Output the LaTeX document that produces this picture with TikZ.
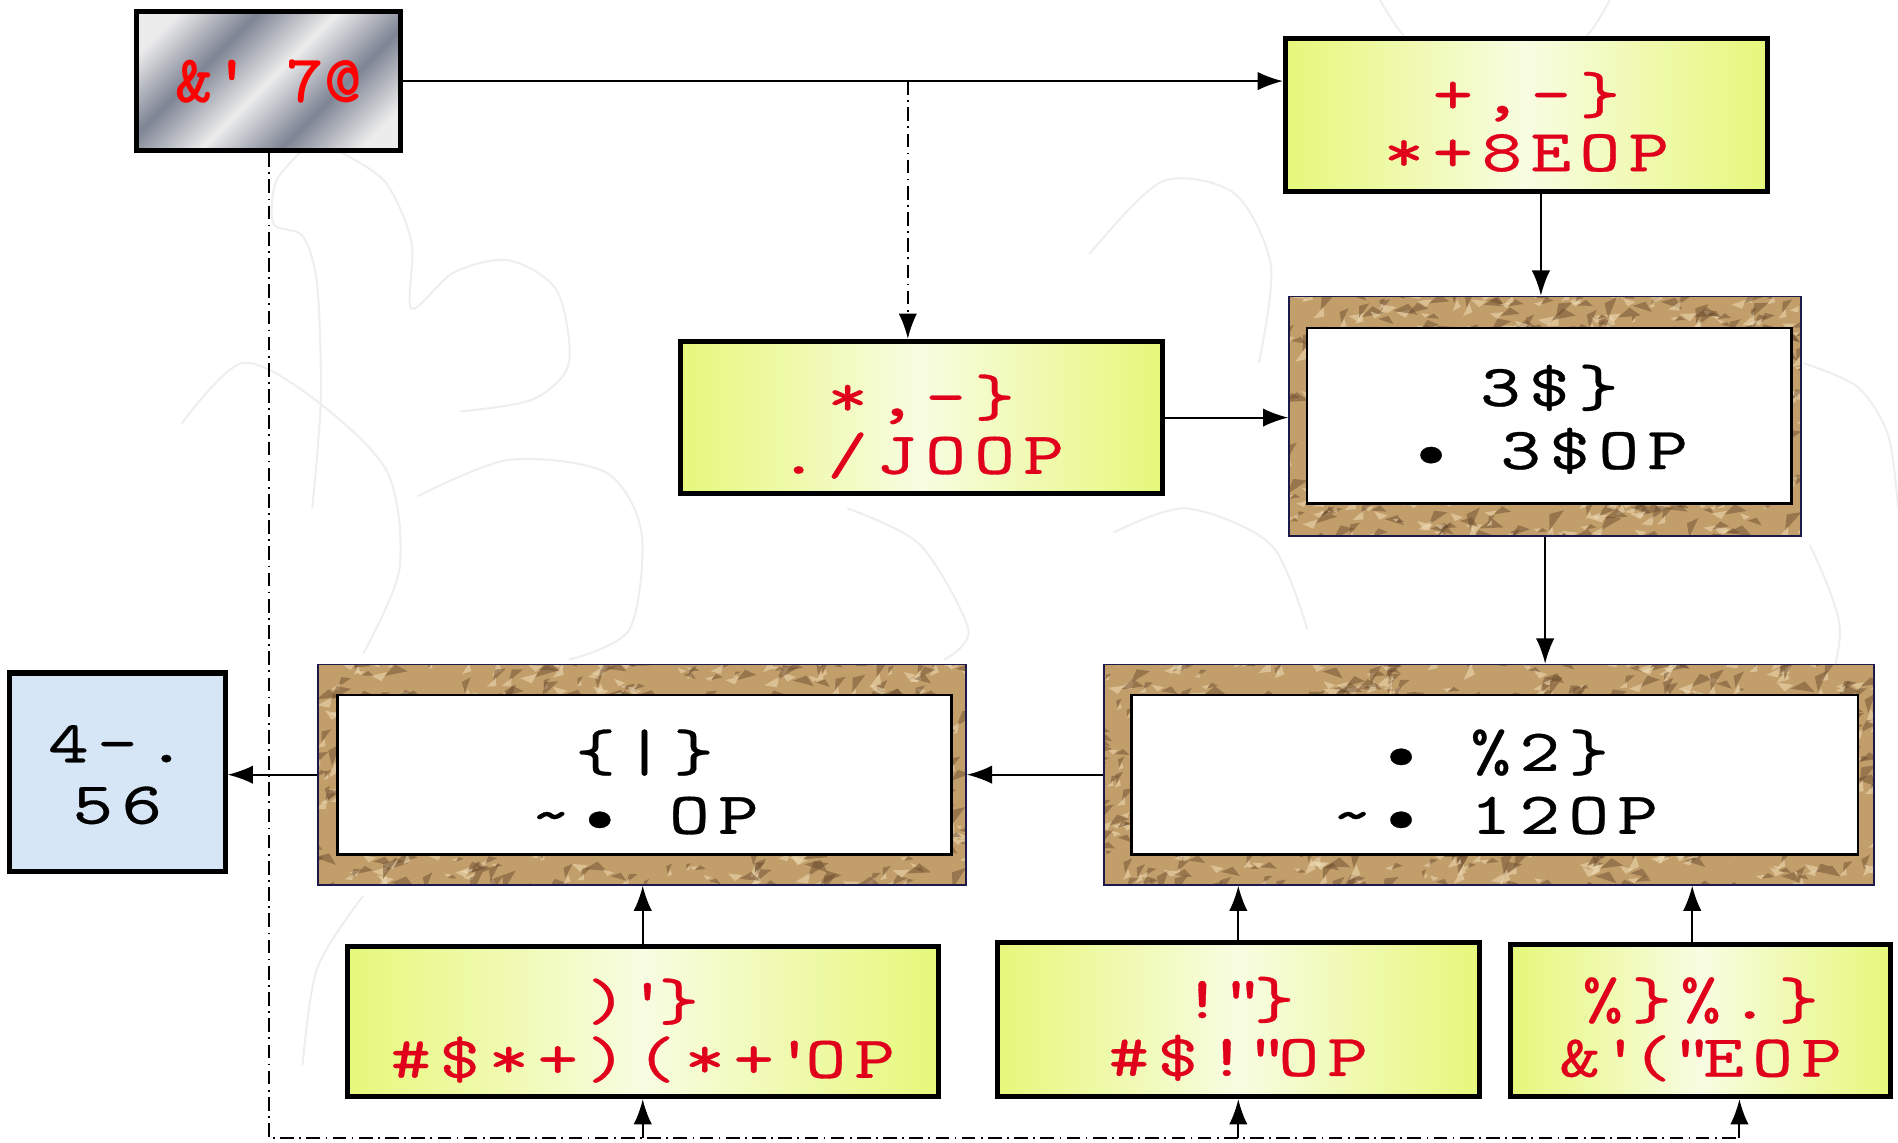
\documentclass[tikz,border=0pt]{standalone}
\usepackage{fontspec}
\usepackage{tikz}
\usetikzlibrary{arrows.meta}

\newfontfamily\boxfont{lmmono10-regular.otf}[FakeStretch=1.3,LetterSpace=14,FakeBold=0.5]
\newfontfamily\headfont{lmmonolt10-bold.otf}[FakeStretch=1.05]

\definecolor{limeedge}{HTML}{E6F87A}
\definecolor{limemid}{HTML}{F8FCE2}
\definecolor{labelred}{HTML}{E0001B}
\definecolor{rockbase}{HTML}{C29E6A}
\definecolor{rockdark}{HTML}{66462A}
\definecolor{rocklight}{HTML}{EEDCB6}
\definecolor{rockline}{HTML}{1C1A4A}
\definecolor{bluepaper}{HTML}{D7E6F6}
\definecolor{metaldark}{HTML}{7E8494}
\definecolor{metallight}{HTML}{ECECEC}
\definecolor{ghost}{HTML}{EEEEEE}

\pgfdeclarehorizontalshading{metal}{100bp}{color(0bp)=(metallight); color(22bp)=(metallight);
  color(36bp)=(metaldark); color(50bp)=(metallight); color(64bp)=(metaldark);
  color(78bp)=(metallight); color(100bp)=(metallight)}

\begin{document}
\begin{tikzpicture}[x=0.0125cm, y=-0.0125cm, >={Latex[length=2.6mm,width=1.9mm]},
  txt/.style={font=\boxfont\fontsize{17.5}{17}\selectfont, align=center, inner sep=0pt,
    text height=1.16cm, text depth=0pt},
  task/.style={txt, draw=black, line width=1.5pt, left color=limeedge,
    right color=limeedge, middle color=limemid, text=labelred},
  panel/.style={txt, font=\boxfont\fontsize{17.5}{18.5}\selectfont, text height=1.22cm,
    draw=black, line width=0.7pt, fill=white},
  rock/.style={draw=rockline, line width=0.5pt, fill=rockbase,
    path picture={
      \pgfmathsetseed{#1}
      \begin{scope}[shift={(path picture bounding box.center)}, x=1cm, y=1cm]
        \foreach \k in {1,...,650}{
          \pgfmathsetmacro\px{8.4*rnd-4.2}
          \pgfmathsetmacro\py{2.7*rnd-1.35}
          \pgfmathsetmacro\pa{90*rnd-20}
          \pgfmathsetmacro\pl{0.08+0.18*rnd}
          \fill[rockdark, opacity=0.45] (\px,\py) -- ++(\pa:\pl) -- ++(\pa+140:0.6*\pl) -- cycle;
          \fill[rocklight, opacity=0.55] (\px+0.03,\py+0.04) -- ++(\pa+180:0.7*\pl) -- ++(\pa-40:0.5*\pl) -- cycle;
        }
      \end{scope}
    }},
  link/.style={line width=0.6pt, ->},
  trace/.style={line width=0.6pt, dash pattern=on 4pt off 1.6pt on 0.5pt off 1.6pt}]

  \useasboundingbox (0,0) rectangle (1568,944);

  % faint sketches behind the chart
  \begin{scope}[ghost, line width=0.6pt]
    \draw plot[smooth] coordinates {(250,124) (228,150) (226,185) (250,195) (262,235) (265,330) (258,420)};
    \draw plot[smooth] coordinates {(278,124) (318,150) (340,200) (340,255) (375,225) (420,215) (460,240) (470,300) (440,330) (380,340)};
    \draw plot[smooth] coordinates {(150,350) (200,300) (260,330) (320,390) (330,470) (300,540)};
    \draw plot[smooth] coordinates {(345,410) (420,380) (500,390) (530,440) (520,520) (470,545)};
    \draw plot[smooth] coordinates {(900,210) (960,150) (1020,160) (1050,220) (1040,300)};
    \draw plot[smooth] coordinates {(920,440) (980,420) (1050,450) (1080,520)};
    \draw plot[smooth] coordinates {(1140,0) (1170,40) (1230,60) (1300,40) (1330,0)};
    \draw plot[smooth] coordinates {(1490,300) (1535,320) (1560,360) (1568,420)};
    \draw plot[smooth] coordinates {(1495,450) (1520,520) (1500,600) (1460,660)};
    \draw plot[smooth] coordinates {(700,420) (760,450) (800,520) (780,545)};
    \draw plot[smooth] coordinates {(300,740) (262,800) (250,880)};
  \end{scope}

  % boxes
  \node[draw=black, line width=1.5pt, shading=metal, shading angle=-45,
    text=red, font=\headfont\fontsize{20}{20}\selectfont, inner sep=0pt,
    minimum width=2.725cm, minimum height=1.4375cm] (src) at (222,67) {\&\textquotesingle{} 7@};
  \node[task, minimum width=4.975cm, minimum height=1.575cm] (plan) at (1261,95) {+,-\}\\*+8EOP};
  \node[task, minimum width=4.975cm, minimum height=1.575cm] (prep) at (761,345) {*,-\}\\./JOOP};

  \node[rock=3, minimum width=5.2875cm, minimum height=2.475cm] (check) at (1276.5,344) {};
  \node[panel, text height=1.1cm, minimum width=5cm, minimum height=1.8125cm] (checkIn) at (1280,343.5)
    {3\$\}\\\textbullet{} 3\$OP};

  \node[rock=11, minimum width=7.95cm, minimum height=2.275cm] (proc) at (1230,640) {};
  \node[panel, minimum width=7.5cm, minimum height=1.65cm] (procIn) at (1235,640)
    {\textbullet{} \%2\}\\\textasciitilde\textbullet{} 12OP};

  \node[rock=5, minimum width=6.6875cm, minimum height=2.275cm] (merge) at (530.5,640) {};
  \node[panel, minimum width=6.3375cm, minimum height=1.65cm] (mergeIn) at (532.5,640)
    {\{|\}\\\textasciitilde\textbullet{} OP};

  \node[txt, font=\boxfont\fontsize{17.5}{18}\selectfont, text height=1.06cm,
    draw=black, line width=1.5pt, fill=bluepaper,
    minimum width=2.225cm, minimum height=2.05cm] (out) at (97,638) {4-.\\56};

  \node[task, minimum width=6.1cm, minimum height=1.55cm] (inA) at (531,844)
    {)\textquotesingle\}\\\#\$*+)(*+\textquotesingle OP};
  \node[task, minimum width=4.975cm, minimum height=1.5875cm] (inB) at (1023,842.5)
    {!\textquotedbl\}\\\#\$!\textquotedbl OP};
  \node[task, minimum width=3.925cm, minimum height=1.575cm] (inC) at (1405,843)
    {\%\}\%.\}\\\&\textquotesingle(\textquotedbl EOP};

  % solid flow
  \draw[link] (src.east) -- (src.east -| plan.west);
  \coordinate (fork) at (750,67);
  \draw[trace, ->] (fork) -- (fork |- prep.north);
  \draw[link] (prep.east) -- (prep.east -| check.west);
  \coordinate (planfoot) at ([xshift=0.15cm]plan.south);
  \draw[link] (planfoot) -- (planfoot |- check.north);
  \draw[link] (check.south) -- (check.south |- proc.north);
  \draw[link] (proc.west) -- (proc.west -| merge.east);
  \draw[link] (merge.west) -- (merge.west -| out.east);
  \draw[link] (inA.north) -- (inA.north |- merge.south);
  \draw[link] (inB.north) -- (inB.north |- proc.south);
  \coordinate (inCtop) at ([xshift=-0.0875cm]inC.north);
  \draw[link] (inCtop) -- (inCtop |- proc.south);

  % dash-dot feed along the bottom
  \coordinate (bus) at (222,940);
  \coordinate (inCfoot) at ([xshift=0.4cm]inC.south);
  \draw[trace] (src.south) -- (bus) -- (bus -| inCfoot);
  \foreach \n in {inA.south, inB.south, inCfoot}
    \draw[trace, ->] (\n |- bus) -- (\n);
\end{tikzpicture}
\end{document}
